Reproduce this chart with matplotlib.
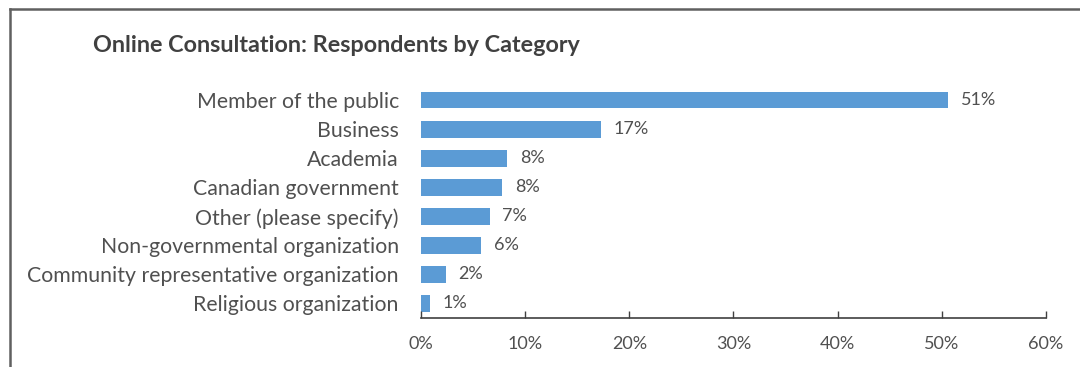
import matplotlib.pyplot as plt
from matplotlib.lines import Line2D

plt.rcParams['font.family'] = ['Lato', 'DejaVu Sans']

categories = ['Member of the public', 'Business', 'Academia', 'Canadian government',
              'Other (please specify)', 'Non-governmental organization',
              'Community representative organization', 'Religious organization']
values = [50.6, 17.3, 8.3, 7.8, 6.6, 5.8, 2.4, 0.9]
labels = ['51%', '17%', '8%', '8%', '7%', '6%', '2%', '1%']
xticks = [0, 10, 20, 30, 40, 50, 60]

grey = '#505050'

fig = plt.figure(figsize=(10.8, 3.67), dpi=100)
ax = fig.add_axes([0.3898, 0.1335, 0.5787, 0.6335])

y = range(len(categories))
ax.barh(y, values, height=0.58, color='#5B9BD5')
for i, (v, t) in enumerate(zip(values, labels)):
    ax.text(v + 1.2, i, t, va='center', ha='left', fontsize=13, color=grey)

ax.set_ylim(len(categories) - 0.5, -0.5)
ax.set_xlim(0, 60)
ax.set_yticks(list(y))
ax.set_yticklabels(categories, fontsize=15.3, color=grey)
ax.set_xticks(xticks)
ax.set_xticklabels([f'{t}%' for t in xticks], fontsize=13, color=grey)
ax.tick_params(axis='y', length=0, pad=16)
ax.tick_params(axis='x', direction='in', length=5, width=1, color='#404040', pad=13)
for s in ['top', 'right', 'left']:
    ax.spines[s].set_visible(False)
ax.spines['bottom'].set_color('#404040')
ax.spines['bottom'].set_linewidth(1.2)

fig.text(93 / 1080, 1 - 45 / 367, 'Online Consultation: Respondents by Category',
         fontsize=16.8, fontweight='bold', color='#404040', va='center', ha='left')

# outer frame (top and left edge)
fig.add_artist(Line2D([10 / 1080, 1.0], [1 - 9 / 367, 1 - 9 / 367],
                      transform=fig.transFigure, color='#606060', lw=1.8))
fig.add_artist(Line2D([10 / 1080, 10 / 1080], [0, 1 - 9 / 367],
                      transform=fig.transFigure, color='#606060', lw=1.8))

fig.savefig('out.png', dpi=100)
